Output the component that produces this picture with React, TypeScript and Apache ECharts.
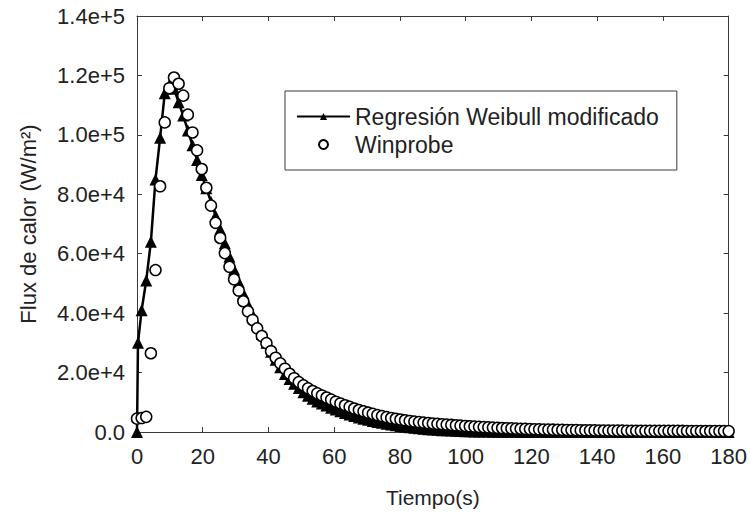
import React, { useEffect, useRef } from "react";
import * as echarts from "echarts";

// Sampling times (s) of the Winprobe record
const timeS = [
  0, 1.41, 2.81, 4.22, 5.63, 7.03, 8.44, 9.84, 11.25, 12.66,
  14.06, 15.47, 16.88, 18.28, 19.69, 21.09, 22.5, 23.91, 25.31, 26.72,
  28.13, 29.53, 30.94, 32.34, 33.75, 35.16, 36.56, 37.97, 39.38, 40.78,
  42.19, 43.59, 45.0, 46.41, 47.81, 49.22, 50.63, 52.03, 53.44, 54.84,
  56.25, 57.66, 59.06, 60.47, 61.88, 63.28, 64.69, 66.09, 67.5, 68.91,
  70.31, 71.72, 73.13, 74.53, 75.94, 77.34, 78.75, 80.16, 81.56, 82.97,
  84.38, 85.78, 87.19, 88.59, 90.0, 91.41, 92.81, 94.22, 95.63, 97.03,
  98.44, 99.84, 101.25, 102.66, 104.06, 105.47, 106.88, 108.28, 109.69, 111.09,
  112.5, 113.91, 115.31, 116.72, 118.13, 119.53, 120.94, 122.34, 123.75, 125.16,
  126.56, 127.97, 129.38, 130.78, 132.19, 133.59, 135.0, 136.41, 137.81, 139.22,
  140.63, 142.03, 143.44, 144.84, 146.25, 147.66, 149.06, 150.47, 151.88, 153.28,
  154.69, 156.09, 157.5, 158.91, 160.31, 161.72, 163.13, 164.53, 165.94, 167.34,
  168.75, 170.16, 171.56, 172.97, 174.38, 175.78, 177.19, 178.59, 180.0,
];

// Winprobe heat flux (W/m2)
const winprobeFlux = [
  4500, 4700, 5100, 26500, 54500, 82700, 104200, 115700, 119300, 117200,
  113200, 106800, 100800, 94800, 88500, 82200, 76200, 70400, 65300, 60200,
  55600, 51400, 47600, 44000, 40600, 37700, 34900, 32300, 29900, 27200,
  25000, 23100, 21300, 19600, 18100, 16800, 15700, 14700, 13800, 13000,
  12300, 11600, 10900, 10200, 9600, 9000, 8450, 7900, 7400, 6950,
  6500, 6100, 5700, 5350, 5000, 4700, 4450, 4200, 3950, 3720,
  3520, 3350, 3180, 3020, 2880, 2740, 2620, 2500, 2380, 2260,
  2140, 2030, 1930, 1830, 1740, 1650, 1570, 1490, 1410, 1340,
  1270, 1210, 1150, 1090, 1040, 990, 940, 900, 860, 820,
  780, 740, 710, 680, 650, 620, 600, 580, 560, 540,
  520, 505, 490, 475, 460, 450, 440, 430, 420, 410,
  400, 395, 390, 385, 380, 375, 370, 365, 360, 355,
  350, 345, 340, 335, 330, 325, 320, 315, 310,
];

// Modified Weibull regression (W/m2) on the same time grid
const weibullFlux = [
  0, 41000, 51000, 64000, 85000, 99000, 114000, 116800, 115500, 111000,
  106500, 101500, 96500, 91500, 86500, 82000, 77500, 72800, 68200, 63500,
  59000, 54700, 50600, 46700, 43000, 39500, 36200, 33000, 30000, 27000,
  24300, 21800, 19500, 17800, 16200, 14800, 13400, 12200, 11200, 10300,
  9600, 8900, 8200, 7600, 7000, 6400, 5900, 5400, 4900, 4500,
  4100, 3700, 3400, 3100, 2800, 2500, 2250, 2000, 1800, 1600,
  1400, 1250, 1100, 960, 840, 730, 630, 550, 470, 400,
  340, 290, 250, 210, 180, 150, 130, 110, 90, 75,
  62, 52, 43, 36, 30, 25, 20, 16, 13, 11,
  9, 7, 6, 5, 4, 3, 3, 2, 2, 1,
  0, 0, 0, 0, 0, 0, 0, 0, 0, 0,
  0, 0, 0, 0, 0, 0, 0, 0, 0, 0,
  0, 0, 0, 0, 0, 0, 0, 0, 0,
];

// Extra early regression point
const weibullEarlyTime = [0.3];
const weibullEarlyFlux = [30000];

const seriesNames = ["Regresión Weibull modificado", "Winprobe"];
const xRange = { min: 0, max: 180, interval: 20 };
const yRange = { min: 0, max: 140000, interval: 20000 };
const xName = "Tiempo(s)";
const yName = "Flux de calor (W/m²)";

const FONT = "'Liberation Sans', Arial, Helvetica, sans-serif";
const TEXT = "#222";
const AXIS = "#3a3a3a";

function fmtY(v: number): string {
  if (v === 0) return "0.0";
  const e = Math.floor(Math.log10(v) + 1e-9);
  const m = v / Math.pow(10, e);
  return m.toFixed(1) + "e+" + e;
}

export default function App() {
  const ref = useRef<HTMLDivElement>(null);

  useEffect(() => {
    if (!ref.current) return;
    const chart = echarts.init(ref.current, undefined, { renderer: "svg" });

    const n = Math.min(timeS.length, winprobeFlux.length);
    const winData: number[][] = [];
    for (let i = 0; i < n; i++) winData.push([timeS[i], winprobeFlux[i]]);

    const m = Math.min(timeS.length, weibullFlux.length);
    const wData: number[][] = [[timeS[0], weibullFlux[0]]];
    for (let i = 0; i < weibullEarlyTime.length; i++)
      wData.push([weibullEarlyTime[i], weibullEarlyFlux[i]]);
    for (let i = 1; i < m; i++) wData.push([timeS[i], weibullFlux[i]]);

    const axisLine = { show: true, onZero: false, lineStyle: { color: AXIS, width: 1 } };
    const tick = { show: true, inside: true, length: 5, lineStyle: { color: AXIS, width: 1 } };
    const label = { fontSize: 22, color: TEXT, fontFamily: FONT };

    chart.setOption({
      animation: false,
      backgroundColor: "#fff",
      grid: { left: 137, right: 21, top: 16, bottom: 84, containLabel: false },
      legend: {
        left: 285,
        top: 91,
        orient: "vertical",
        padding: [14, 18, 14, 11],
        itemGap: 5,
        itemWidth: 53,
        itemHeight: 9,
        itemTextGap: 20,
        borderColor: AXIS,
        borderWidth: 1,
        borderRadius: 0,
        textStyle: { fontSize: 23, color: TEXT, fontFamily: FONT, lineHeight: 22 },
        data: seriesNames,
      },
      xAxis: [
        {
          type: "value",
          position: "bottom",
          ...xRange,
          axisLine,
          axisTick: tick,
          axisLabel: { ...label, margin: 13 },
          splitLine: { show: false },
          name: xName,
          nameLocation: "middle",
          nameGap: 55,
          nameTextStyle: { fontSize: 21, color: TEXT, fontFamily: FONT },
        },
        {
          type: "value",
          position: "top",
          ...xRange,
          axisLine,
          axisTick: tick,
          axisLabel: { show: false },
          splitLine: { show: false },
        },
      ],
      yAxis: [
        {
          type: "value",
          position: "left",
          ...yRange,
          axisLine,
          axisTick: tick,
          axisLabel: { ...label, margin: 12, formatter: fmtY },
          splitLine: { show: false },
          name: yName,
          nameLocation: "middle",
          nameGap: 98,
          nameRotate: 90,
          nameTextStyle: { fontSize: 22, color: TEXT, fontFamily: FONT },
        },
        {
          type: "value",
          position: "right",
          ...yRange,
          axisLine,
          axisTick: tick,
          axisLabel: { show: false },
          splitLine: { show: false },
        },
      ],
      series: [
        {
          name: seriesNames[0],
          type: "line",
          xAxisIndex: 0,
          yAxisIndex: 0,
          data: wData,
          symbol: "triangle",
          symbolSize: 12,
          showSymbol: true,
          clip: false,
          lineStyle: { color: "#000", width: 2.5 },
          itemStyle: { color: "#000" },
          z: 2,
        },
        {
          name: seriesNames[1],
          type: "scatter",
          xAxisIndex: 0,
          yAxisIndex: 0,
          data: winData,
          symbol: "circle",
          symbolSize: 11,
          clip: false,
          itemStyle: { color: "#fff", borderColor: "#000", borderWidth: 1.5, opacity: 1 },
          z: 3,
        },
      ],
    });

    return () => chart.dispose();
  }, []);

  return (
    <div
      ref={ref}
      style={{ position: "fixed", left: 0, top: 0, width: 750, height: 516, background: "#fff" }}
    />
  );
}
